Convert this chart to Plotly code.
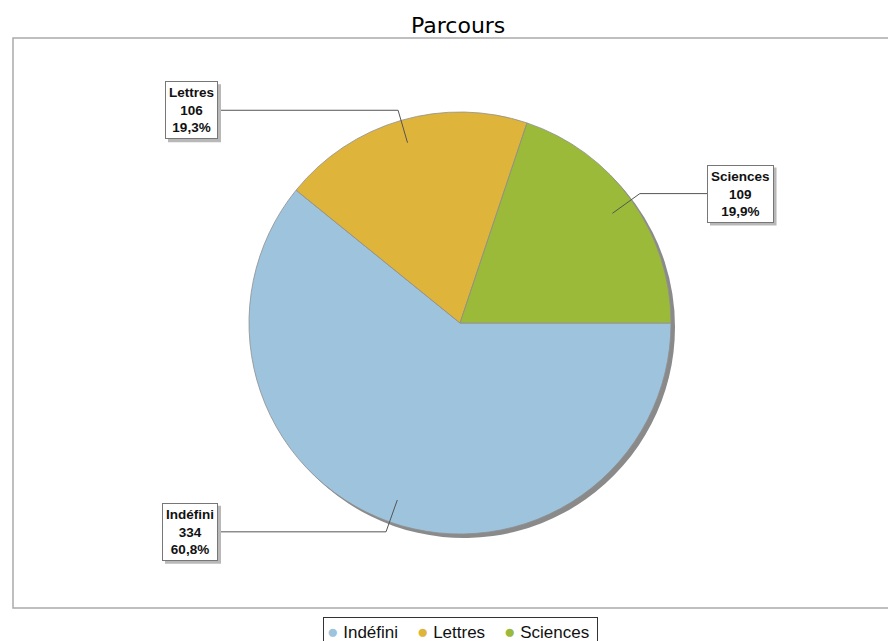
import math
import plotly.graph_objects as go

# ---- data ----
categories = ["Indéfini", "Lettres", "Sciences"]
values = [334, 106, 109]
colors = ["#9DC3DD", "#DFB43B", "#9BBA3A"]
title_text = "Parcours"

# page body has an 8px margin: figure is sized/positioned so that
# window pixel coordinates below map onto it
OFF = 8
W, H = 896 - OFF, 641 - OFF
CX, CY, R = 460, 323, 211
SHADOW = 4

def P(x, y):
    return (x - OFF) / W, 1 - (y - OFF) / H

def dom(cx, cy, r):
    x0, y1 = P(cx - r, cy - r)
    x1, y0 = P(cx + r, cy + r)
    return dict(x=[x0, x1], y=[y0, y1])

fig = go.Figure()

# shadow pie
fig.add_trace(go.Pie(
    labels=categories, values=values, sort=False, direction="clockwise", rotation=90,
    marker=dict(colors=["#8a8a8a"] * len(values), line=dict(width=0)),
    textinfo="none", hoverinfo="skip", showlegend=False,
    domain=dom(CX + SHADOW, CY + SHADOW, R),
))
# main pie
fig.add_trace(go.Pie(
    labels=categories, values=values, sort=False, direction="clockwise", rotation=90,
    marker=dict(colors=colors, line=dict(width=0.8, color="#8f8f8f")),
    textinfo="none", showlegend=False,
    domain=dom(CX, CY, R),
))

# approximate Arial Bold advance widths (per 1000 em) to size the label shadows
AW = {"L": 611, "e": 556, "t": 333, "r": 389, "s": 556, "S": 667, "c": 556, "i": 278,
      "n": 611, "I": 278, "d": 611, "é": 556, "f": 333, ",": 278, "%": 889}
LFS = 13.5
def text_w(s):
    return sum(AW.get(ch, 556) for ch in s) * LFS / 1000

total = sum(values)
cum = 0
shapes = []
annotations = []
LEFT_EDGE, RIGHT_EDGE = 218, 707
BOX_H = 58
for cat, v in zip(categories, values):
    theta = 2 * math.pi * (cum + v / 2) / total
    cum += v
    dx, dy = math.cos(theta), math.sin(theta)
    ax, ay = CX + 0.89 * R * dx, CY + 0.89 * R * dy
    ex, ey = CX + 1.05 * R * dx, CY + 1.05 * R * dy
    bx = LEFT_EDGE if dx < 0 else RIGHT_EDGE
    p1, p2, p3 = P(ax, ay), P(ex, ey), P(bx, ey)
    shapes.append(dict(type="path", xref="paper", yref="paper",
                       path=f"M {p1[0]},{p1[1]} L {p2[0]},{p2[1]} L {p3[0]},{p3[1]}",
                       line=dict(color="#555555", width=1)))
    pct = f"{100 * v / total:.1f}".replace(".", ",") + "%"
    lines = [cat, str(v), pct]
    txt = "<br>".join(lines)
    bw = max(text_w(s) for s in lines) + 8
    # box shadow
    sx0 = bx - bw if dx < 0 else bx
    s0 = P(sx0 + 3, ey - BOX_H / 2 + 3)
    s1 = P(sx0 + bw + 3, ey + BOX_H / 2 + 3)
    shapes.append(dict(type="rect", xref="paper", yref="paper",
                       x0=s0[0], x1=s1[0], y0=s1[1], y1=s0[1],
                       fillcolor="#b8b8b8", line=dict(width=0)))
    xa = "right" if dx < 0 else "left"
    annotations.append(dict(text=txt, x=p3[0], y=p3[1], xref="paper", yref="paper",
                            xanchor=xa, yanchor="middle", showarrow=False,
                            borderpad=3, borderwidth=1, align="center",
                            bgcolor="white", bordercolor="#777777",
                            font=dict(family="Liberation Sans", size=LFS, color="#111111", weight="bold")))

# plot border
b0 = P(13, 608)
b1 = P(13, 38)
shapes.insert(0, dict(type="rect", xref="paper", yref="paper",
                      x0=b0[0], x1=1.02, y0=b0[1], y1=b1[1],
                      line=dict(color="#aaaaaa", width=1.5), layer="below"))

# title
tx, ty = P(458, 25)
annotations.append(dict(text=title_text, x=tx, y=ty, xref="paper", yref="paper",
                        xanchor="center", yanchor="middle", showarrow=False,
                        font=dict(family="DejaVu Sans", size=22, color="black")))

# legend (built from categories / colors)
sep = "\u00a0" * 3 + " "
legend_txt = sep.join(
    f'<span style="color:{c};font-size:19px">●</span> {cat}' for cat, c in zip(categories, colors)) + "\u00a0"
lx, ly = P(461, 617)
annotations.append(dict(text=legend_txt, x=lx, y=ly, xref="paper", yref="paper",
                        xanchor="center", yanchor="top", showarrow=False,
                        bordercolor="#333333", borderwidth=1, borderpad=3, bgcolor="white",
                        font=dict(family="Liberation Sans", size=17, color="#111111")))

fig.update_layout(
    width=W, height=H, margin=dict(l=0, r=0, t=0, b=0),
    paper_bgcolor="white", plot_bgcolor="white",
    shapes=shapes, annotations=annotations, showlegend=False,
)

fig.write_html("out.html")
